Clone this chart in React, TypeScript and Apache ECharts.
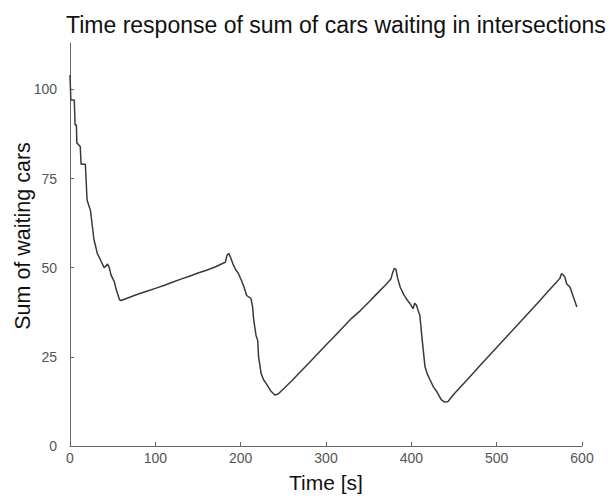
import React, { useEffect, useRef } from "react";
import * as echarts from "echarts";

// Time (s) and total number of cars waiting at the intersections
const timeS: number[] = [
  0, 0.5, 1, 5, 6, 7.5, 8, 12, 13, 18, 19, 20, 24, 25, 28, 30, 32, 36, 40, 44, 46, 48, 52, 54, 58, 60,
  70, 80, 90, 100, 110, 120, 130, 140, 150, 160, 170, 180, 182, 184, 186, 188,
  191, 194, 197, 201, 204, 207, 212, 214, 215, 216.5, 218, 220, 221, 224, 227, 230, 235, 240, 244,
  250, 260, 270, 280, 290, 300, 310, 320, 330, 340, 350, 360, 370, 376, 378, 380, 382,
  384, 387, 391, 395, 398.5, 402, 404, 406, 408, 410, 412, 414, 416, 419, 422, 426, 430, 435, 439, 443,
  450, 460, 470, 480, 490, 500, 510, 520, 530, 540, 550, 560, 570, 574, 576, 578, 580, 582, 586, 590, 594,
];
const waitingCars: number[] = [
  104, 104, 97, 97, 90, 90, 85, 84, 79, 79, 74, 69, 66, 64, 58, 56, 54, 52, 50, 51, 50, 48, 46, 44, 41, 40.8,
  41.7, 42.6, 43.4, 44.2, 45, 45.9, 46.8, 47.6, 48.5, 49.3, 50.2, 51.3, 51.5, 53.5, 54, 53,
  51, 49.5, 48.5, 46.4, 44.5, 42.2, 41.4, 39, 36, 33.4, 31, 29.6, 25, 20.3, 18.5, 17.5, 15.5, 14.3, 14.6,
  16, 18.3, 20.8, 23.3, 25.8, 28.3, 30.8, 33.3, 35.8, 37.9, 40.3, 42.8, 45.2, 46.8, 48.5, 49.8, 49.5,
  47, 44.5, 42.5, 41, 39.9, 38.5, 40, 39.5, 38, 36.6, 31.5, 26.8, 22.2, 20, 18.5, 16.5, 15.2, 13, 12.3, 12.5,
  14.6, 17.2, 19.8, 22.4, 25, 27.6, 30.2, 32.8, 35.4, 38, 40.6, 43.3, 45.9, 47, 48.3, 48, 47.3, 45.5, 44.5, 41.7, 39,
];

const xTicks: number[] = [0, 100, 200, 300, 400, 500, 600];
const yTicks: number[] = [0, 25, 50, 75, 100];

const FONT = "'Liberation Sans', Arial, sans-serif";

export default function App() {
  const ref = useRef<HTMLDivElement>(null);

  useEffect(() => {
    document.body.style.margin = "0";
    if (!ref.current) return;
    const chart = echarts.init(ref.current, null, { renderer: "svg" });
    const seriesData = timeS.map((t, i) => [t, waitingCars[i]]);

    chart.setOption({
      animation: false,
      backgroundColor: "#ffffff",
      title: {
        text: "Time response of sum of cars waiting in intersections",
        left: 66,
        top: 13,
        padding: 0,
        textStyle: { fontFamily: FONT, fontSize: 23, fontWeight: "normal", color: "#111" },
      },
      grid: { left: 70, right: 30, top: 43, bottom: 53, containLabel: false },
      xAxis: {
        type: "value",
        min: 0,
        max: 600,
        interval: 100,
        name: "Time [s]",
        nameLocation: "middle",
        nameGap: 26,
        nameTextStyle: { fontFamily: FONT, fontSize: 21, color: "#111" },
        axisLine: { lineStyle: { color: "#666", width: 1 } },
        axisTick: { inside: true, length: 4, lineStyle: { color: "#666" }, customValues: xTicks },
        axisLabel: {
          customValues: xTicks,
          fontFamily: FONT,
          fontSize: 14,
          color: "#555",
          margin: 5,
        },
        splitLine: { show: false },
      },
      yAxis: {
        type: "value",
        min: 0,
        max: 113,
        interval: 25,
        axisLine: { show: true, lineStyle: { color: "#666", width: 1 } },
        axisTick: { show: true, inside: true, length: 4, lineStyle: { color: "#666" }, customValues: yTicks },
        axisLabel: {
          customValues: yTicks,
          fontFamily: FONT,
          fontSize: 14,
          color: "#555",
          margin: 13,
        },
        splitLine: { show: false },
      },
      graphic: [
        {
          type: "text",
          x: 23,
          y: 236,
          rotation: Math.PI / 2,
          style: {
            text: "Sum of waiting cars",
            fontFamily: FONT,
            fontSize: 21.5,
            fill: "#111",
            align: "center",
            verticalAlign: "middle",
          },
        },
      ],
      series: [
        {
          type: "line",
          data: seriesData,
          showSymbol: false,
          symbol: "none",
          lineStyle: { color: "#3a3a3a", width: 1.5 },
        },
      ],
    });

    return () => chart.dispose();
  }, []);

  return <div ref={ref} style={{ width: 612, height: 499, position: "absolute", left: 0, top: 0 }} />;
}
